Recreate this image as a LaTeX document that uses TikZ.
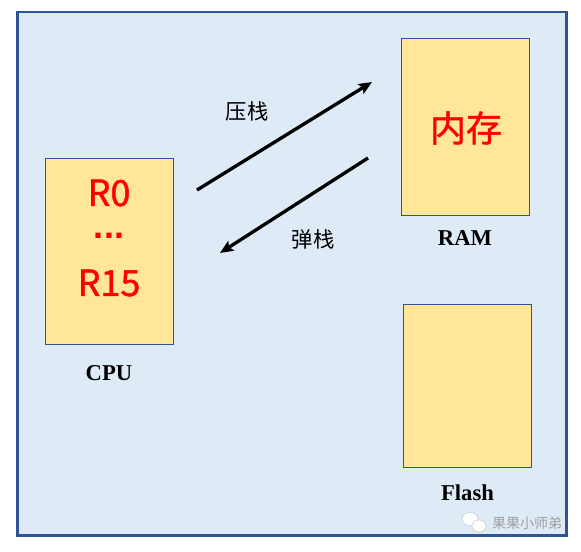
\documentclass[tikz,border=0pt]{standalone}
\usepackage{fontspec}
\setmainfont{Liberation Serif}
\newfontfamily\cjk{Noto Sans CJK SC}
\newfontfamily\regfont[FakeBold=1.2]{Noto Sans CJK SC}
\newfontfamily\dotfont{Liberation Sans}
\usetikzlibrary{arrows,arrows.meta,positioning}
\definecolor{bgblue}{HTML}{DEEBF7}
\definecolor{frameblue}{HTML}{2F5597}
\definecolor{boxyellow}{HTML}{FFE699}

\begin{document}
\begin{tikzpicture}[x=0.75pt,y=-0.75pt,>={Stealth[length=10pt,width=8.5pt,inset=2pt]},auto]
\tikzstyle{membox}=[fill=boxyellow,draw=frameblue,line width=0.75pt,inner sep=0pt,minimum width=96pt]
\tikzstyle{reg}=[text=red,font=\regfont\fontsize{27}{27}\selectfont]
\tikzstyle{unitname}=[font=\bfseries\fontsize{17}{17}\selectfont,text=black]
\tikzstyle{op}=[font=\cjk\fontsize{16}{16}\selectfont,text=black]
\tikzstyle{flow}=[->,line width=2.5pt]

\useasboundingbox (0,0) rectangle (581,551);
\draw[fill=bgblue,draw=frameblue,line width=2pt] (17.5,12) rectangle (566.5,535.5);

\node[membox,minimum height=139.5pt] (cpu)   at (109,251)   {};
\node[membox,minimum height=132.75pt] (ram)  at (465,126.5) {};
\node[membox,minimum height=122.25pt] (flash) at (467.5,385.8) {};

\node[reg] (r0)   at (109,193) {R0};
\node[reg,font=\dotfont\bfseries\fontsize{27}{27}\selectfont,anchor=base] (dots) at (109,238) {...};
\node[reg] (r15)  at (109,283) {R15};
\node[reg] (store) at (466,128) {内存};

\node[unitname] (cpuname)   [below=12pt of cpu]   {CPU};
\node[unitname] (ramname)   [below=8pt of ram]    {RAM};
\node[unitname] (flashname) [below=9pt of flash]  {Flash};

\coordinate (pushA) at (197,190);
\coordinate (pushB) at (372,82);
\coordinate (popA)  at (368,158);
\coordinate (popB)  at (220,253);

\node[op] (push) at (247,111) {压栈};
\node[op] (pop)  at (313,239) {弹栈};

\path
(pushA) edge[flow] (pushB)
(popA)  edge[flow] (popB)
;

% watermark
\fill[white,draw=gray!40] (470,519) ellipse (8 and 6.5);
\fill[white,draw=gray!40] (479,526) ellipse (7 and 6);
\node[font=\cjk\fontsize{10.5}{10.5}\selectfont,text=gray!75] (mark) at (527,523) {果果小师弟};
\end{tikzpicture}
\end{document}
